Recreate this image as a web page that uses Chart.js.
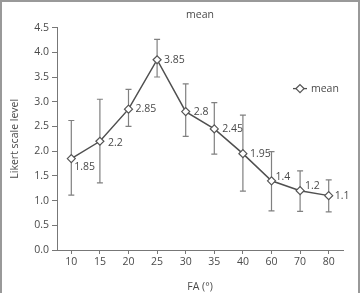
<!DOCTYPE html>
<html>
<head>
<meta charset="utf-8">
<script src="https://cdn.jsdelivr.net/npm/chart.js@4"></script>
<style>
  body { margin: 0; background: #fff; }
  #wrap { width: 361px; height: 293px; }
</style>
</head>
<body>
<div id="wrap"><canvas id="faChart" width="361" height="293"></canvas></div>
<script>
// data
const faLabels = ['10', '15', '20', '25', '30', '35', '40', '60', '70', '80'];
const meanValues = [1.85, 2.2, 2.85, 3.85, 2.8, 2.45, 1.95, 1.4, 1.2, 1.1];
const errUpper = [2.62, 3.05, 3.25, 4.26, 3.36, 2.98, 2.73, 1.99, 1.60, 1.42];
const errLower = [1.11, 1.36, 2.50, 3.50, 2.30, 1.94, 1.19, 0.79, 0.78, 0.77];
const yTicks = [0, 0.5, 1, 1.5, 2, 2.5, 3, 3.5, 4, 4.5];

const textColor = '#4a4a4a';
const fontFam = '"Open Sans", sans-serif';

// label nudges [dx, dy] for each value label, relative to the point
const labelNudge = [[3, 8], [8, 2], [7, 0], [7, 0], [8, 0], [8, 0], [7, 0], [4, -4], [5, -5], [6, 0]];

const errorBars = {
  id: 'errorBars',
  beforeDatasetsDraw(chart) {
    const ctx = chart.ctx;
    const meta = chart.getDatasetMeta(0);
    const y = chart.scales.y;
    ctx.save();
    ctx.strokeStyle = '#808080';
    ctx.lineWidth = 1.2;
    meta.data.forEach((pt, i) => {
      const top = y.getPixelForValue(errUpper[i]);
      const bot = y.getPixelForValue(errLower[i]);
      ctx.beginPath();
      ctx.moveTo(pt.x, top); ctx.lineTo(pt.x, bot);
      ctx.moveTo(pt.x - 3, top); ctx.lineTo(pt.x + 3, top);
      ctx.moveTo(pt.x - 3, bot); ctx.lineTo(pt.x + 3, bot);
      ctx.stroke();
    });
    ctx.restore();
  }
};

const valueLabels = {
  id: 'valueLabels',
  afterDatasetsDraw(chart) {
    const ctx = chart.ctx;
    const meta = chart.getDatasetMeta(0);
    ctx.save();
    ctx.font = '10.5px ' + fontFam;
    ctx.fillStyle = textColor;
    ctx.textAlign = 'left';
    ctx.textBaseline = 'middle';
    meta.data.forEach((pt, i) => {
      ctx.fillText(String(meanValues[i]), pt.x + labelNudge[i][0], pt.y + labelNudge[i][1]);
    });
    ctx.restore();
  }
};

const legendAndFrame = {
  id: 'legendAndFrame',
  afterDraw(chart) {
    const ctx = chart.ctx;
    const a = chart.chartArea;
    const lx = a.right - 50, ly = a.top + 61;
    ctx.save();
    // legend line + diamond
    ctx.strokeStyle = '#505050';
    ctx.lineWidth = 1.3;
    ctx.beginPath();
    ctx.moveTo(lx, ly); ctx.lineTo(lx + 14, ly);
    ctx.stroke();
    ctx.fillStyle = '#fff';
    ctx.strokeStyle = '#555';
    ctx.beginPath();
    ctx.moveTo(lx + 7, ly - 4); ctx.lineTo(lx + 11, ly);
    ctx.lineTo(lx + 7, ly + 4); ctx.lineTo(lx + 3, ly);
    ctx.closePath();
    ctx.fill(); ctx.stroke();
    ctx.font = '10.5px ' + fontFam;
    ctx.fillStyle = textColor;
    ctx.textBaseline = 'middle';
    ctx.fillText(chart.data.datasets[0].label, lx + 18, ly);
    // outer frame (left, top, right)
    ctx.strokeStyle = '#999';
    ctx.lineWidth = 2;
    ctx.beginPath();
    ctx.moveTo(1, 293); ctx.lineTo(1, 1); ctx.lineTo(359, 1); ctx.lineTo(359, 293);
    ctx.stroke();
    ctx.restore();
  }
};

new Chart(document.getElementById('faChart'), {
  type: 'line',
  data: {
    labels: faLabels,
    datasets: [{
      label: 'mean',
      data: meanValues,
      borderColor: '#505050',
      borderWidth: 1.5,
      tension: 0,
      pointStyle: 'rectRot',
      pointRadius: 4,
      pointBackgroundColor: '#fff',
      pointBorderColor: '#555',
      pointBorderWidth: 1.2
    }]
  },
  options: {
    responsive: false,
    animation: false,
    layout: { padding: { left: 0, right: 18, top: 0, bottom: 0 } },
    plugins: {
      legend: { display: false },
      tooltip: { enabled: false },
      title: {
        display: true,
        text: 'mean',
        fullSize: false,
        color: textColor,
        font: { family: fontFam, size: 10.5, weight: 'normal' },
        padding: { top: 9, bottom: 6 }
      }
    },
    scales: {
      x: {
        offset: true,
        grid: { drawOnChartArea: false, drawTicks: true, tickLength: 4, color: '#777' },
        border: { color: '#777', width: 1 },
        ticks: { color: textColor, padding: 2, font: { family: fontFam, size: 10.5 } },
        title: { display: true, text: 'FA (°)', color: textColor, padding: { top: 1, bottom: 0 }, font: { family: fontFam, size: 10.5 } },
        afterFit(s) { s.height = 43; }
      },
      y: {
        min: 0,
        max: 4.5,
        afterBuildTicks(s) { s.ticks = yTicks.map(v => ({ value: v })); },
        grid: { drawOnChartArea: false, drawTicks: true, tickLength: 5, color: '#777' },
        border: { color: '#777', width: 1 },
        ticks: { color: textColor, padding: 3, font: { family: fontFam, size: 10.5 }, callback: v => Number(v).toFixed(1) },
        title: { display: true, text: 'Likert scale level', color: textColor, padding: { top: 9, bottom: 0 }, font: { family: fontFam, size: 10.5 } },
        afterFit(s) { s.width = 57; }
      }
    }
  },
  plugins: [errorBars, valueLabels, legendAndFrame]
});
</script>
</body>
</html>
